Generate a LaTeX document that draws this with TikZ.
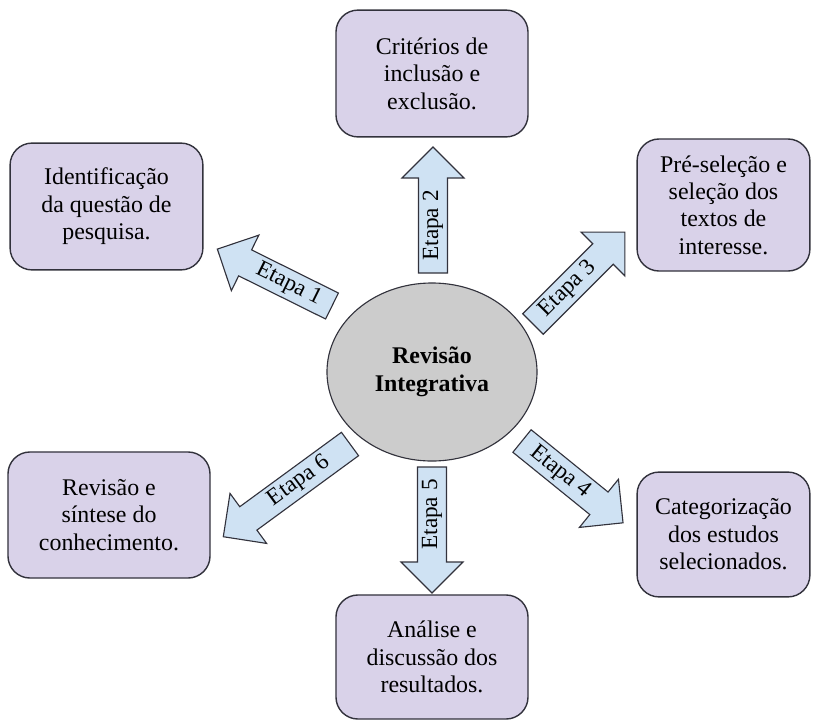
\documentclass[tikz,border=0pt]{standalone}
\usepackage{fontspec}
\setmainfont{Liberation Serif}
\usetikzlibrary{shapes.geometric}
\definecolor{lilas}{RGB}{217,210,233}
\definecolor{azul}{RGB}{207,226,243}
\definecolor{cinza}{RGB}{204,204,204}
\definecolor{borda}{RGB}{50,50,60}
\tikzset{
    seta/.style={draw=borda, fill=azul, line width=0.8pt},
    pics/etapa/.style n args={3}{code={
        \draw[seta] (0,-14.5) -- ({#1-31},-14.5) -- ({#1-31},-31) -- (#1,0) -- ({#1-31},31) -- ({#1-31},14.5) -- (0,14.5) -- cycle;
        \node[transform shape, rotate=#2, inner sep=0pt, font=\rmfamily\fontsize{16.5}{18}\selectfont] (-t) at ({(#1-31)/2},0) {#3};
    }},
}

\begin{document}
\begin{tikzpicture}[x=0.025cm, y=-0.025cm,
        caixa/.style={draw=borda, fill=lilas, line width=1pt, rounded corners=0.55cm, align=center, inner sep=2pt, font=\rmfamily\fontsize{17}{19.5}\selectfont}]
        \useasboundingbox (0,0) rectangle (817,725);
        \node[ellipse, draw=borda, fill=cinza, line width=0.8pt, minimum width=5.25cm, minimum height=4.45cm, align=center, font=\rmfamily\bfseries\fontsize{17}{20}\selectfont] (c) at (432,372) {Revisão\\Integrativa};
        \node[caixa, minimum width=4.8cm, minimum height=3.17cm] (b2) at (432,73.5) {Critérios de\\inclusão e\\exclusão.};
        \node[caixa, minimum width=4.82cm, minimum height=3.17cm] (b1) at (106.5,206.5) {Identificação\\da questão de\\pesquisa.};
        \node[caixa, minimum width=4.32cm, minimum height=3.3cm] (b3) at (723.5,205) {Pré-seleção e\\seleção dos\\textos de\\interesse.};
        \node[caixa, minimum width=5.05cm, minimum height=3.15cm] (b6) at (109,515) {Revisão e\\síntese do\\conhecimento.};
        \node[caixa, minimum width=4.32cm, minimum height=3.12cm] (b4) at (723.5,534.5) {Categorização\\dos estudos\\selecionados.};
        \node[caixa, minimum width=4.8cm, minimum height=3.1cm] (b5) at (432,657) {Análise e\\discussão dos\\resultados.};
        \pic[rotate=153.6] (e1) at (332,306) {etapa={128}{180}{Etapa 1}};
        \pic[rotate=90] (e2) at (433,273) {etapa={126}{0}{Etapa 2}};
        \pic[rotate=45] (e3) at (533,324) {etapa={130}{0}{Etapa 3}};
        \pic[rotate=-39] (e4) at (522,441) {etapa={130}{0}{Etapa 4}};
        \pic[rotate=-90] (e5) at (432,467) {etapa={126}{180}{Etapa 5}};
        \pic[rotate=216.2] (e6) at (350,444) {etapa={157}{180}{Etapa 6}};
    \end{tikzpicture}
\end{document}
